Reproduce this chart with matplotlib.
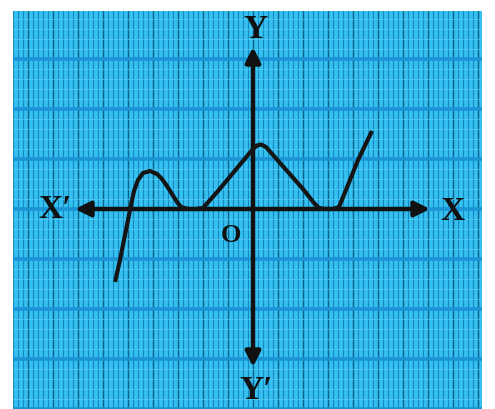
"""Graph paper sketch: curve touching the x-axis"""
import matplotlib
matplotlib.use('Agg')
import matplotlib.pyplot as plt
import numpy as np

# curve (1 unit = one big square)
curve_x = [-2.76, -2.66, -2.56, -2.46, -2.38, -2.30, -2.20, -2.06, -1.92, -1.82,
           -1.72, -1.62, -1.52, -1.44, -1.30, -1.14, -1.00, -0.70, -0.40,
           -0.10, 0.00, 0.08, 0.16, 0.26, 0.40, 0.70, 1.00, 1.22, 1.32,
           1.44, 1.60, 1.72, 1.90, 2.10, 2.38]
curve_y = [-1.46, -1.02, -0.52, -0.02, 0.36, 0.58, 0.72, 0.76, 0.70, 0.60,
           0.46, 0.30, 0.14, 0.04, 0.00, 0.00, 0.02, 0.36, 0.72,
           1.08, 1.20, 1.27, 1.29, 1.24, 1.08, 0.74, 0.40, 0.12, 0.02,
           0.00, 0.00, 0.04, 0.48, 0.98, 1.56]

x_range = (-4.8, 4.58)
y_range = (-4.0, 3.96)
x_axis_ends = (-3.56, 3.54)
y_axis_ends = (-3.16, 3.24)

labels = ["X\u2032", "X", "Y", "Y\u2032", "O"]
label_pos = [(-3.96, 0.0), (3.98, -0.04), (0.04, 3.62), (0.06, -3.62), (-0.44, -0.50)]
label_size = [24, 24, 24, 24, 19]

fig = plt.figure(figsize=(4.95, 4.10), dpi=100)
ax = fig.add_axes([13 / 495, 0, 469 / 495, 398 / 410])
ax.set_xlim(*x_range)
ax.set_ylim(*y_range)
ax.axis('off')
ax.add_patch(plt.Rectangle((x_range[0], y_range[0]), x_range[1] - x_range[0],
                           y_range[1] - y_range[0], color='#34c0f0', zorder=0))

# graph paper
for v in np.arange(-4.8, 4.6, 0.1):
    ax.axvline(v, color='#1588c0', lw=0.8, zorder=1)
for v in np.arange(-4.5, 4.6, 0.5):
    ax.axvline(v, color='#08628c', lw=1.0, zorder=1)
for v in np.arange(-4.0, 4.0, 0.2):
    ax.axhline(v, color='#58cbf2', lw=0.5, zorder=1)
for v in range(-4, 4):
    ax.axhline(v, color='#1b93d4', lw=2.6, zorder=1)

# axes with arrows
arrow = dict(arrowstyle='-|>,head_length=0.9,head_width=0.45', lw=3.2, color='#111111',
             shrinkA=0, shrinkB=0)
ax.annotate('', xy=(x_axis_ends[0], 0), xytext=(0, 0), arrowprops=arrow, zorder=3)
ax.annotate('', xy=(x_axis_ends[1], 0), xytext=(0, 0), arrowprops=arrow, zorder=3)
ax.annotate('', xy=(0, y_axis_ends[1]), xytext=(0, 0), arrowprops=arrow, zorder=3)
ax.annotate('', xy=(0, y_axis_ends[0]), xytext=(0, 0), arrowprops=arrow, zorder=3)

ax.plot(curve_x, curve_y, color='#151515', lw=3, solid_capstyle='butt', zorder=4)

for txt, (px, py), fs in zip(labels, label_pos, label_size):
    ax.text(px, py, txt, fontsize=fs, fontweight='bold',
            family=['Liberation Serif', 'DejaVu Serif'],
            ha='center', va='center', color='#111111', zorder=5)

fig.savefig('out.png', dpi=100, facecolor='white')
